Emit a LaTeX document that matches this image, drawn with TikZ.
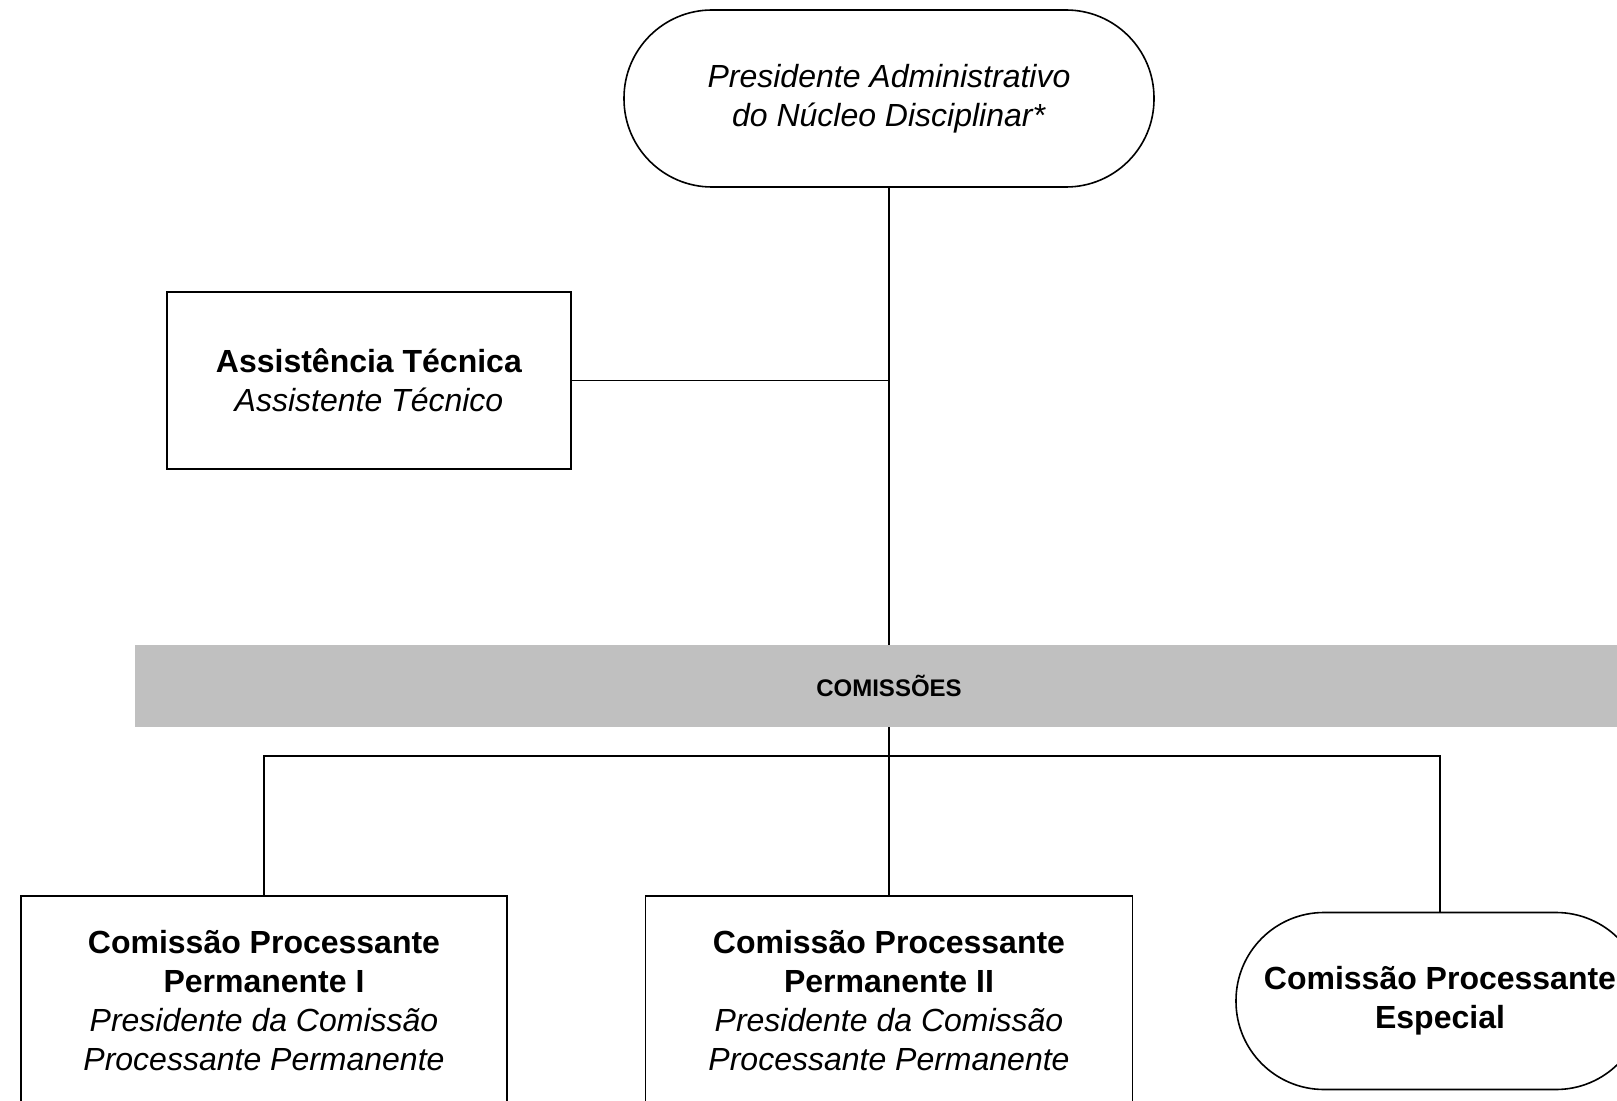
\documentclass[tikz,border=0pt]{standalone}
\usepackage{fontspec}
\setmainfont{Liberation Sans}
\usepackage{tikz}
\usetikzlibrary{positioning}
\definecolor{bandgray}{RGB}{192,192,192}
\tikzstyle{box}  = [rectangle, draw=black, line width=0.8pt, fill=white, align=center, font=\fontsize{16}{19.5}\selectfont]
\tikzstyle{pill} = [box, rounded corners=44pt, minimum height=88.5pt]
\tikzstyle{band} = [rectangle, fill=bandgray, minimum width=754pt, minimum height=41pt, font=\bfseries\fontsize{12}{14}\selectfont]
\tikzstyle{line} = [line width=0.8pt]

\begin{document}
\begin{tikzpicture}[x=0.5pt, y=-0.5pt]
      \useasboundingbox (0,0) rectangle (1617,1101);
      \clip (0,0) rectangle (1617,1101);

      \node (pres)   [pill, minimum width=265pt] at (889,98.5)
            {\textit{Presidente Administrativo}\\\textit{do Núcleo Disciplinar*}};
      \node (assist) [box, node distance=141pt, below of=pres, xshift=-260pt,
                      minimum width=202pt, minimum height=88.5pt]
            {\textbf{Assistência Técnica}\\\textit{Assistente Técnico}};
      \node (com)    [band, node distance=293.75pt, below of=pres] {COMISSÕES};

      \node (cp2)    [box, node distance=157.5pt, below of=com,
                      minimum width=243.5pt, minimum height=105pt]
            {\textbf{Comissão Processante}\\\textbf{Permanente II}\\
             \textit{Presidente da Comissão}\\\textit{Processante Permanente}};
      \node (cp1)    [box, node distance=312.5pt, left of=cp2,
                      minimum width=243pt, minimum height=105pt]
            {\textbf{Comissão Processante}\\\textbf{Permanente I}\\
             \textit{Presidente da Comissão}\\\textit{Processante Permanente}};
      \node (cpe)    [pill, node distance=275.5pt, right of=cp2, minimum width=204pt]
            {\textbf{Comissão Processante}\\\textbf{Especial}};

      \coordinate (tap) at (assist -| pres);
      \coordinate (bus) at (889,756);

      \draw [line] (pres) -- (com);
      \draw [line] (assist) -- (tap);
      \draw [line] (com) -- (cp2);
      \draw [line] (cp1) |- (bus) -| (cpe);

    \end{tikzpicture}
\end{document}
